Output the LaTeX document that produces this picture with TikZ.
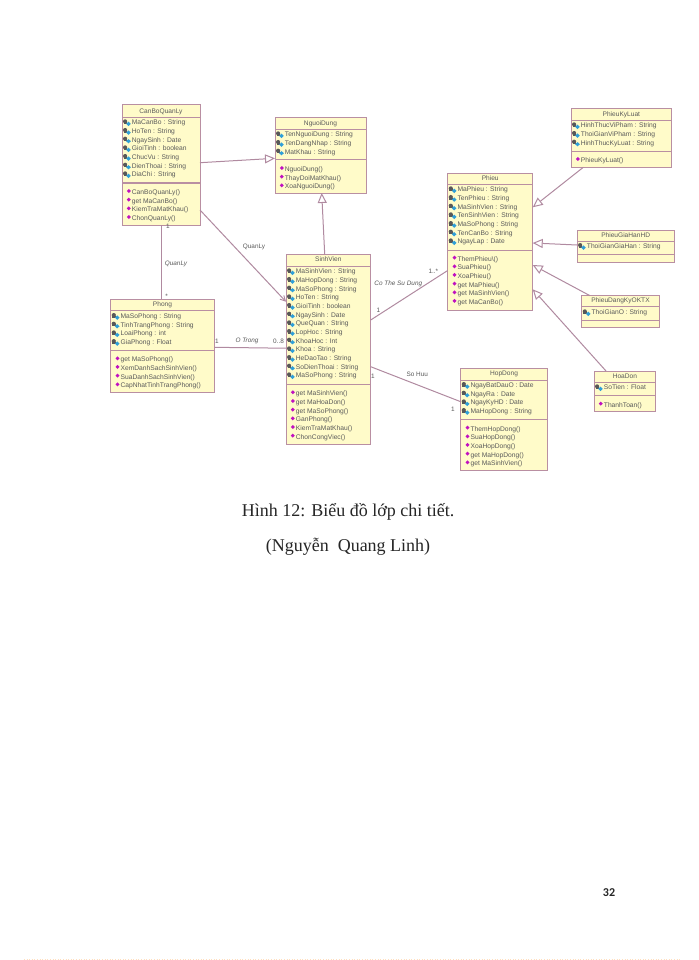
\documentclass[tikz,border=0pt]{standalone}
\usepackage{fontspec}
\setmainfont{Liberation Sans}
\newfontfamily\capfont{Liberation Serif}
\newfontfamily\numfont{Carlito}
\usetikzlibrary{arrows.meta}
\definecolor{boxfill}{HTML}{FFFBC9}
\definecolor{boxline}{HTML}{B98FA2}
\definecolor{linkline}{HTML}{B08AA0}
\definecolor{umltext}{HTML}{5A5A5A}
\definecolor{iconcyan}{HTML}{2F9FD8}
\definecolor{icongray}{HTML}{585858}
\definecolor{iconmag}{HTML}{C010C0}
\tikzset{
  x=1pt,y=-1pt,
  classbox/.style={draw=boxline,fill=boxfill,line width=1pt,inner sep=0pt,outer sep=0pt},
  divider/.style={draw=boxline,line width=1pt},
  titletext/.style={font=\fontsize{6.6}{7}\selectfont,text=umltext,inner sep=0pt,text height=4.7pt,text depth=1.3pt},
  membertext/.style={font=\fontsize{6.7}{7}\selectfont,text=umltext,anchor=west,inner sep=0pt,text height=4.7pt,text depth=1.3pt},
  linklabel/.style={font=\fontsize{6.4}{7}\selectfont,text=umltext,inner sep=0pt},
  linkital/.style={linklabel,font=\fontsize{6.4}{7}\itshape\selectfont},
  assoc/.style={draw=linkline,line width=1pt},
  inherit/.style={assoc,-{Triangle[open,fill=white,length=10pt,width=9pt]}},
  navig/.style={assoc,-{Straight Barb[length=5pt,width=5.5pt]}},
  attricon/.pic={
    \fill[icongray] (-6.6,-1.6) circle (2.1);
    \fill[icongray] (-8.2,-1) rectangle (-4.6,1);
    \fill[iconcyan] (-3.2,-1.3) -- (-0.9,0.9) -- (-3.2,3.1) -- (-5.5,0.9) -- cycle;
  },
  methicon/.pic={
    \fill[iconmag] (-2.9,-3.7) -- (-0.9,-1.7) -- (-2.9,0.3) -- (-4.9,-1.7) -- cycle;
  },
}
\newcommand{\umlbox}[8]{% name,x0,y0,x1,y1,title,split1,split2
  \node[classbox,minimum width={(#4-#2)*1pt},minimum height={(#5-#3)*1pt}] (#1) at ({(#2+#4)/2},{(#3+#5)/2}) {};
  \draw[divider] (#1.west |- 0,#7) -- (#1.east |- 0,#7);
  \draw[divider] (#1.west |- 0,#8) -- (#1.east |- 0,#8);
  \node[titletext] (#1-title) at ({(#2+#4)/2},{(#3+#7)/2}) {#6};
}
\newcommand{\umlattrs}[4]{% name,x0,firsty,list
  \foreach \t [count=\i from 0] in {#4} {
    \pic at ({#2+9.7},{#3+\i*8.67}) {attricon};
    \node[membertext] (#1-a\i) at ({#2+9.7},{#3+\i*8.67}) {\t};
  }
}
\newcommand{\umlmeths}[4]{% name,x0,firsty,list
  \foreach \t [count=\i from 0] in {#4} {
    \pic at ({#2+9.7},{#3+\i*8.67}) {methicon};
    \node[membertext] (#1-m\i) at ({#2+9.7},{#3+\i*8.67}) {\t};
  }
}
\begin{document}
\begin{tikzpicture}
\useasboundingbox (0,0) rectangle (698,960);
\fill[white] (0,0) rectangle (698,960);

\umlbox{cb}{122}{105}{200}{225}{CanBoQuanLy}{118}{183}
\umlbox{nd}{275}{118}{366}{193}{NguoiDung}{130}{160}
\umlbox{sv}{286}{254.3}{370.7}{444}{SinhVien}{266}{384.3}
\umlbox{ph}{110.7}{299.3}{214.3}{392.7}{Phong}{310.7}{350}
\umlbox{pe}{447.7}{173.3}{532.7}{310}{Phieu}{184.3}{250}
\umlbox{kl}{571}{108.3}{671.7}{167.3}{PhieuKyLuat}{120.7}{151.7}
\umlbox{gh}{577}{230}{674.3}{262.3}{PhieuGiaHanHD}{241}{254.3}
\umlbox{dk}{581.7}{295.7}{659.3}{327.3}{PhieuDangKyOKTX}{306.7}{320}
\umlbox{hd}{594}{371}{655.7}{411.7}{HoaDon}{382.7}{395.7}
\umlbox{hp}{460.7}{368.3}{547.3}{470.7}{HopDong}{380}{419.3}

\umlattrs{cb}{122}{123}{MaCanBo : String,HoTen : String,NgaySinh : Date,GioiTinh : boolean,ChucVu : String,DienThoai : String,DiaChi : String}
\umlmeths{cb}{122}{192.7}{CanBoQuanLy(),get MaCanBo(),KiemTraMatKhau(),ChonQuanLy()}
\umlattrs{nd}{275}{135}{TenNguoiDung : String,TenDangNhap : String,MatKhau : String}
\umlmeths{nd}{275}{169.7}{NguoiDung(),ThayDoiMatKhau(),XoaNguoiDung()}
\umlattrs{sv}{286}{272}{MaSinhVien : String,MaHopDong : String,MaSoPhong : String,HoTen : String,GioiTinh : boolean,NgaySinh : Date,QueQuan : String,LopHoc : String,KhoaHoc : Int,Khoa : String,HeDaoTao : String,SoDienThoai : String,MaSoPhong : String}
\umlmeths{sv}{286}{394}{get MaSinhVien(),get MaHoaDon(),get MaSoPhong(),GanPhong(),KiemTraMatKhau(),ChonCongViec()}
\umlattrs{ph}{110.7}{316.7}{MaSoPhong : String,TinhTrangPhong : String,LoaiPhong : int,GiaPhong : Float}
\umlmeths{ph}{110.7}{360}{get MaSoPhong(),XemDanhSachSinhVien(),SuaDanhSachSinhVien(),CapNhatTinhTrangPhong()}
\umlattrs{pe}{447.7}{190}{MaPhieu : String,TenPhieu : String,MaSinhVien : String,TenSinhVien : String,MaSoPhong : String,TenCanBo : String,NgayLap : Date}
\umlmeths{pe}{447.7}{259.3}{ThemPhieu\textbackslash(),SuaPhieu(),XoaPhieu(),get MaPhieu(),get MaSinhVien(),get MaCanBo()}
\umlattrs{kl}{571}{126}{HinhThucViPham : String,ThoiGianViPham : String,HinhThucKyLuat : String}
\umlmeths{kl}{571}{160.7}{PhieuKyLuat()}
\umlattrs{gh}{577}{246.7}{ThoiGianGiaHan : String}
\umlattrs{dk}{581.7}{313}{ThoiGianO : String}
\umlattrs{hd}{594}{388}{SoTien : Float}
\umlmeths{hd}{594}{405.3}{ThanhToan()}
\umlattrs{hp}{460.7}{385.7}{NgayBatDauO : Date,NgayRa : Date,NgayKyHD : Date,MaHopDong : String}
\umlmeths{hp}{460.7}{429.3}{ThemHopDong(),SuaHopDong(),XoaHopDong(),get MaHopDong(),get MaSinhVien()}

% connectors
\draw[inherit] (cb.east |- 0,162.7) -- (nd.west |- 0,158.3);
\draw[inherit] (324.7,254.3 |- sv.north) -- (321.7,193 |- nd.south);
\draw[navig] (cb.east |- 0,210) -- (sv.west |- 0,301.7);
\draw[assoc] (161.5,225 |- cb.south) -- (161.5,299 |- ph.north);
\draw[assoc] (ph.east |- 0,347.3) -- (268,348) -- (sv.west |- 0,348);
\draw[assoc] (sv.east |- 0,320) -- (pe.west |- 0,270.5);
\draw[assoc] (sv.east |- 0,366.7) -- (hp.west |- 0,401.7);
\draw[inherit] (583.3,167.3 |- kl.south) -- (pe.east |- 0,207.3);
\draw[inherit] (gh.west |- 0,245) -- (pe.east |- 0,243);
\draw[inherit] (590,295.7 |- dk.north) -- (pe.east |- 0,265);
\draw[inherit] (606,371 |- hd.north) -- (pe.east |- 0,289.3);

% connector labels
\node[linklabel] (l1) at (254,247) {QuanLy};
\node[linkital] (l2) at (176,264) {QuanLy};
\node[linklabel] (l3) at (168,226.5) {1};
\node[linklabel] (l4) at (166.7,296) {*};
\node[linklabel] (l5) at (217,341) {1};
\node[linkital] (l6) at (247,340.5) {O Trong};
\node[linklabel] (l7) at (278.5,341) {0..8};
\node[linklabel] (l8) at (378.5,310.5) {1};
\node[linkital] (l9) at (398.3,284.3) {Co The Su Dung};
\node[linklabel] (l10) at (433.3,271.7) {1..*};
\node[linklabel] (l11) at (417.3,374.3) {So Huu};
\node[linklabel] (l12) at (373,376.7) {1};
\node[linklabel] (l13) at (453,409.3) {1};

% caption
\node[font=\capfont\fontsize{18}{20}\selectfont,text=black!85,inner sep=0pt] (cap1) at (348,512) {Hình 12: Biểu đồ lớp chi tiết.};
\node[font=\capfont\fontsize{18}{20}\selectfont,text=black!85,inner sep=0pt] (cap2) at (348,547) {(Nguyễn\ \ Quang Linh)};
\node[font=\numfont\bfseries\fontsize{12}{14}\selectfont,text=black!85,inner sep=0pt] (pageno) at (609,893) {32};
\draw[draw=orange!25,line width=0.6pt,dotted] (24,959.3) -- (681,959.3);
\end{tikzpicture}
\end{document}
